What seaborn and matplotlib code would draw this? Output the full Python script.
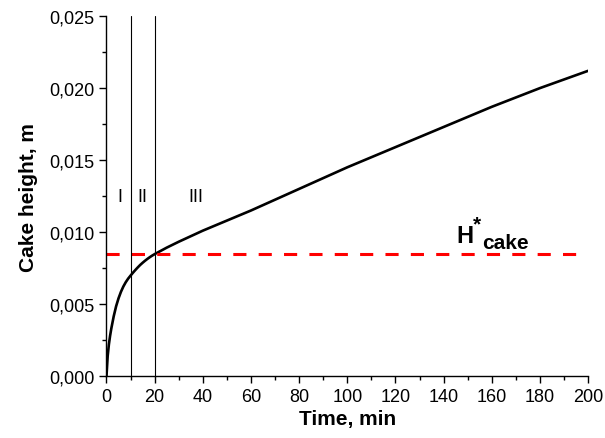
import matplotlib
matplotlib.use("Agg")
import matplotlib.pyplot as plt
import seaborn as sns
import pandas as pd
from matplotlib.ticker import FuncFormatter, MultipleLocator

# Cake height vs. filtration time
time_min = [0, 0.5, 1, 1.5, 2, 3, 4, 5, 6, 7, 8, 9, 10, 11, 12, 13, 14,
            15, 16, 17, 18, 19, 20, 25, 30, 40, 50, 60, 80, 100, 120, 140,
            160, 180, 200]
cake_h = [0.0, 0.0014, 0.0022, 0.0028, 0.0033, 0.00415, 0.00485, 0.0054,
          0.00585, 0.00622, 0.00652, 0.00677, 0.00698, 0.00718, 0.00737,
          0.00755, 0.00772, 0.00787, 0.00801, 0.00814, 0.00826, 0.00837,
          0.00847, 0.00892, 0.00933, 0.0101, 0.0108, 0.0115, 0.0130,
          0.0145, 0.0159, 0.0173, 0.0187, 0.0200, 0.0212]
h_star = 0.0085
stage_bounds = [10, 20]
stage_labels = ["I", "II", "III"]
stage_label_x = [5.5, 15, 37]

df = pd.DataFrame({"t": time_min, "h": cake_h})

sns.set_style("ticks")
plt.rcParams["font.family"] = ["Liberation Sans", "DejaVu Sans"]
for k in ["text.color", "axes.labelcolor", "xtick.color", "ytick.color"]:
    plt.rcParams[k] = "black"

fig = plt.figure(figsize=(6.05, 4.39), dpi=100)
ax = fig.add_axes([0.176, 0.141, 0.796, 0.82])

sns.lineplot(data=df, x="t", y="h", ax=ax, color="black", linewidth=1.9)
ax.axhline(h_star, color="#ff0000", linewidth=2.2, dashes=(4.3, 4.0))
for b in stage_bounds:
    ax.axvline(b, color="black", linewidth=0.8)

for lab, xs in zip(stage_labels, stage_label_x):
    ax.text(xs, 0.0125, lab, fontsize=13, ha="center", va="center")

ax.text(145.3, 0.0093, "H", fontsize=17, fontweight="bold", ha="left", va="baseline")
ax.text(152.3, 0.0106, "*", fontsize=15, fontweight="bold", ha="left", va="center")
ax.text(156.0, 0.0089, "cake", fontsize=15, fontweight="bold", ha="left", va="baseline")

ax.set_xlim(0, 200)
ax.set_ylim(0, 0.025)
ax.xaxis.set_major_locator(MultipleLocator(20))
ax.xaxis.set_minor_locator(MultipleLocator(10))
ax.yaxis.set_major_locator(MultipleLocator(0.005))
ax.yaxis.set_minor_locator(MultipleLocator(0.0025))
ax.yaxis.set_major_formatter(FuncFormatter(lambda v, p: f"{v:.3f}".replace(".", ",")))
ax.xaxis.set_major_formatter(FuncFormatter(lambda v, p: f"{v:.0f}"))

ax.tick_params(which="major", direction="out", length=5, width=1, labelsize=13, color="black")
ax.tick_params(which="minor", direction="out", length=3, width=1, color="black")

for s in ["top", "right"]:
    ax.spines[s].set_visible(False)
for s in ["left", "bottom"]:
    ax.spines[s].set_linewidth(1)
    ax.spines[s].set_color("black")

ax.set_xlabel("Time, min", fontsize=15, fontweight="bold", labelpad=3)
ax.set_ylabel("Cake height, m", fontsize=15, fontweight="bold", labelpad=8)

fig.savefig("out.png", dpi=100)
